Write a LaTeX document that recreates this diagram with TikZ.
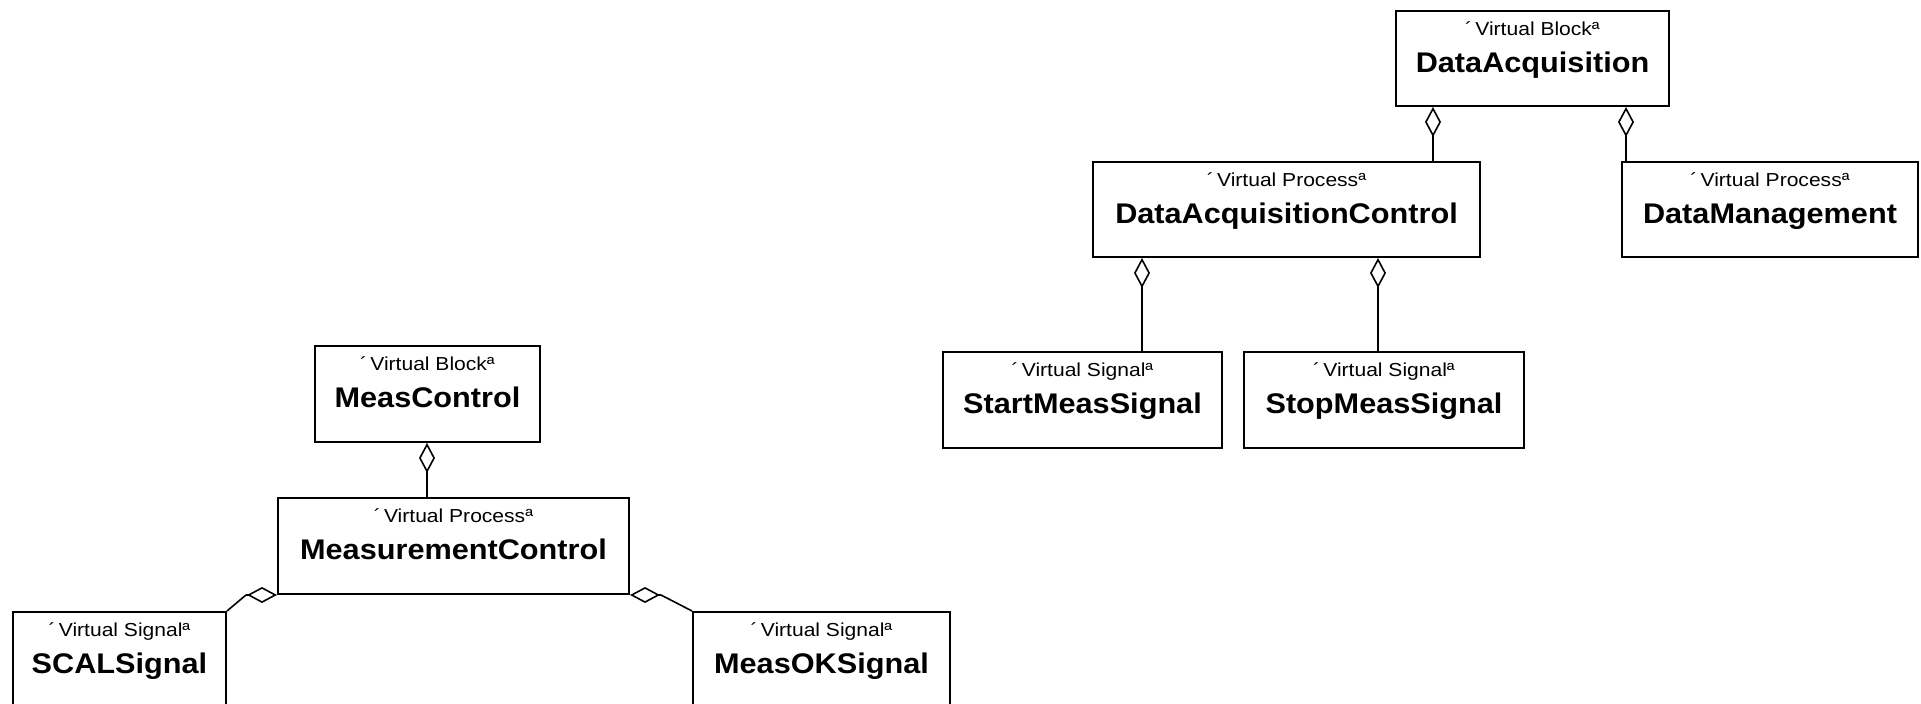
\documentclass[tikz,border=0pt]{standalone}
\usepackage{fontspec}
\setmainfont{Liberation Sans}
\newfontfamily\stfont[FakeStretch=1.12]{Liberation Sans}
\newfontfamily\nmfont[FakeStretch=1.08]{Liberation Sans}
\usetikzlibrary{arrows.meta,calc,fit}
\tikzset{
  box/.style={draw, line width=1pt, inner sep=0pt, rectangle},
  stereo/.style={anchor=base, inner sep=0pt, font=\stfont\fontsize{9.4pt}{11pt}\selectfont},
  bname/.style={anchor=base, inner sep=0pt, font=\nmfont\bfseries\fontsize{14.2pt}{16pt}\selectfont},
  conn/.style={line width=0.8pt},
  aggr/.style={conn, -{Diamond[open, length=15pt, width=8pt]}},
}
\newcommand\umlbox[7]{%
  \node[box, fit={(#2,#3)(#4,#5)}] (#1) {};
  \node[stereo] (#1-s) at ($(#1.north)+(0,26)$) {´\,#6ª};
  \node[bname] (#1-n) at ($(#1.north)+(0,63)$) {#7};
}
\begin{document}
\begin{tikzpicture}[x=0.5pt,y=-0.5pt]
\useasboundingbox (0,0) rectangle (1921,704);
\fill[white] (0,0) rectangle (1921,704);
\clip (0,0) rectangle (1921,704);

% right group
\umlbox{DA}{1396}{11}{1669}{106}{Virtual Block}{DataAcquisition}
\umlbox{DAC}{1093}{162}{1480}{257}{Virtual Process}{DataAcquisitionControl}
\umlbox{DM}{1622}{162}{1918}{257}{Virtual Process}{DataManagement}
\umlbox{SMS}{943}{352}{1222}{448}{Virtual Signal}{StartMeasSignal}
\umlbox{PMS}{1244}{352}{1524}{448}{Virtual Signal}{StopMeasSignal}

% left group
\umlbox{MCB}{315}{346}{540}{442}{Virtual Block}{MeasControl}
\umlbox{MC}{278}{498}{629}{594}{Virtual Process}{MeasurementControl}
\umlbox{SCAL}{13}{612}{226}{720}{Virtual Signal}{SCALSignal}
\umlbox{MOK}{693}{612}{950}{720}{Virtual Signal}{MeasOKSignal}

% vertical aggregation connectors
\coordinate (k1) at (1433,0);
\coordinate (k2) at (1626,0);
\coordinate (k3) at (1142,0);
\coordinate (k4) at (1378,0);
\coordinate (k5) at (427,0);
\draw[aggr] (k1 |- DAC.north) -- (k1 |- DA.south);
\draw[aggr] (k2 |- DM.north) -- (k2 |- DA.south);
\draw[aggr] (k3 |- SMS.north) -- (k3 |- DAC.south);
\draw[aggr] (k4 |- PMS.north) -- (k4 |- DAC.south);
\draw[aggr] (k5 |- MC.north) -- (k5 |- MCB.south);

% corner aggregation connectors
\coordinate (d1) at ($(MC.south west)+(-31,0)$);
\coordinate (d2) at ($(MC.south east)+(31,0)$);
\draw[conn] (SCAL.north east) -- (d1);
\draw[aggr] (d1) -- (MC.south west);
\draw[conn] (MOK.north west) -- (d2);
\draw[aggr] (d2) -- (MC.south east);
\end{tikzpicture}
\end{document}
